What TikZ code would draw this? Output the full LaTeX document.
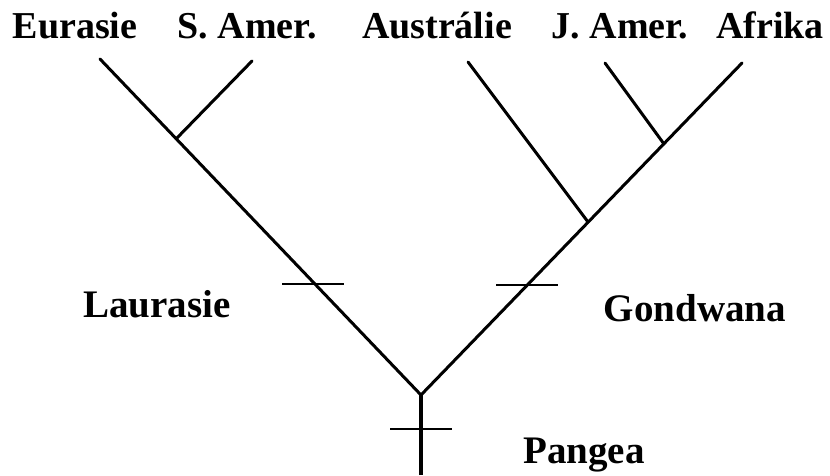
\documentclass[tikz,border=0pt]{standalone}
\usepackage{fontspec}
\setmainfont{Liberation Serif}
\begin{document}
\begin{tikzpicture}[
    x=1pt, y=-1pt,
    taxon/.style={anchor=base, inner sep=0pt, font=\fontsize{38}{40}\selectfont\bfseries},
    clade/.style={anchor=base, inner sep=0pt, font=\fontsize{39}{41}\selectfont\bfseries},
    branch/.style={line width=3pt, line cap=round},
    stem/.style={line width=4.5pt},
    tick/.style={line width=1.8pt}
]
    \useasboundingbox (0,0) rectangle (830,475);

    % Branch points and tips
    \coordinate (base) at (421,475);
    \coordinate (pangea) at (421,395);
    \coordinate (laur) at (176,139);
    \coordinate (gond) at (588,222);
    \coordinate (afram) at (664,144);
    \coordinate (eur) at (100,59);
    \coordinate (samer) at (252,61);
    \coordinate (aus) at (468,62);
    \coordinate (jamer) at (605,63);
    \coordinate (afr) at (742,63);

    % Taxa
    \node[taxon] (teur) at (75,38) {Eurasie};
    \node[taxon] (tsamer) at (247,38) {S. Amer.};
    \node[taxon] (taus) at (437,38) {Austrálie};
    \node[taxon] (tjamer) at (620,38) {J. Amer.};
    \node[taxon] (tafr) at (770,38) {Afrika};

    % Clade labels
    \node[clade] (tlaur) at (157,317) {Laurasie};
    \node[clade] (tgond) at (695,321) {Gondwana};
    \node[clade] (tpangea) at (584,463) {Pangea};

    % Tree
    \draw[stem] (base) -- (pangea);
    \draw[branch] (pangea) -- (eur);
    \draw[branch] (laur) -- (samer);
    \draw[branch] (pangea) -- (afr);
    \draw[branch] (gond) -- (aus);
    \draw[branch] (afram) -- (jamer);

    % Ticks
    \coordinate (tkroot) at (421,429);
    \coordinate (tkleft) at (313,284);
    \coordinate (tkright) at (527,285);
    \foreach \t in {tkroot,tkleft,tkright}
        \draw[tick] ([xshift=-31pt]\t) -- ([xshift=31pt]\t);
\end{tikzpicture}
\end{document}
